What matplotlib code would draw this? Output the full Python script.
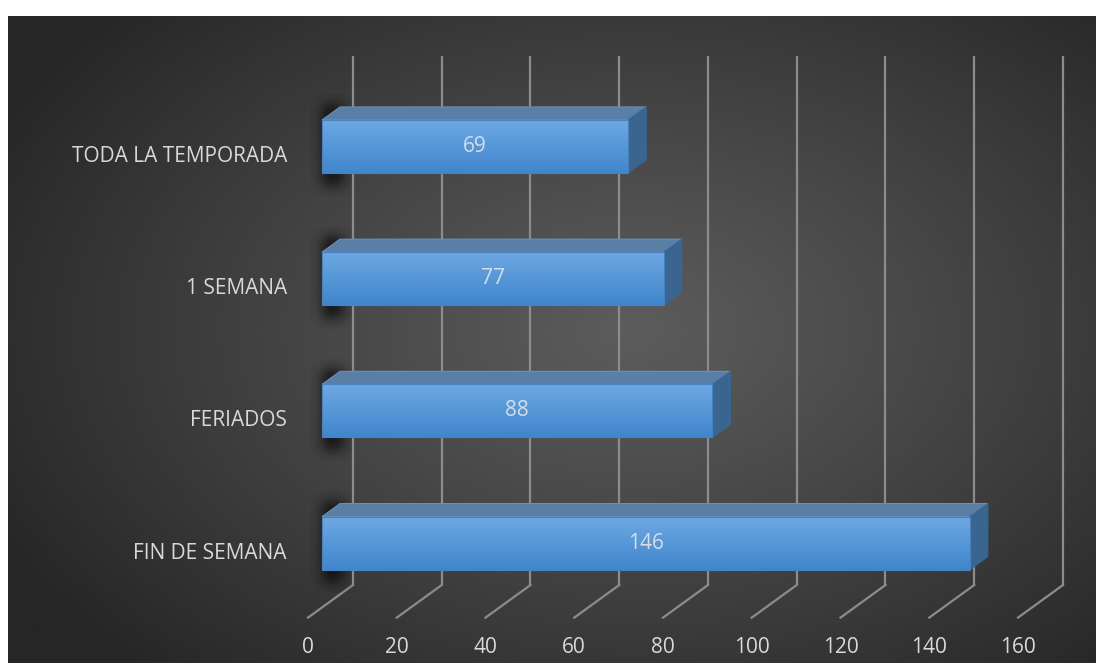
import numpy as np
import matplotlib
matplotlib.use("Agg")
import matplotlib.pyplot as plt
from matplotlib.patches import Polygon

# ---- data ----
categories = ["TODA LA TEMPORADA", "1 SEMANA", "FERIADOS", "FIN DE SEMANA"]
values = [69, 77, 88, 146]
ticks = [0, 20, 40, 60, 80, 100, 120, 140, 160]
tick_labels = [str(t) for t in ticks]

# ---- layout (pixel based) ----
W, H = 1096, 663
PX = 4.4375          # px per value unit
X0 = 322             # px of value 0 on bar front face
Y0 = 146.5           # px of first bar centre
SP = 132.2           # px between categories
SLOPE = 0.725        # vertical px per depth px

def dx(depth_px):
    return depth_px / PX

def dy(depth_px):
    return -depth_px * SLOPE / SP

def yc(px):
    return (px - Y0) / SP

fig = plt.figure(figsize=(W / 100, H / 100), dpi=100)
fig.patch.set_facecolor("white")

# background radial gradient
bg = fig.add_axes([8 / W, 0, 1 - 8 / W, (H - 16) / H])
gx = np.linspace(8, W, 400)
gy = np.linspace(16, H, 260)
GX, GY = np.meshgrid(gx, gy)
r = np.sqrt(((GX - 630) / 720) ** 2 + ((GY - 330) / 470) ** 2)
r = np.clip(r, 0, 1)
lv = (0x5c - (0x5c - 0x26) * r ** 1.1) / 255.0
img = np.dstack([lv, lv, lv])
bg.imshow(img, aspect="auto", extent=(0, 1, 0, 1), origin="upper")
bg.set_axis_off()

ax = fig.add_axes([0, 0, 1, 1])
ax.patch.set_alpha(0)
ax.set_xlim(-X0 / PX, (W - X0) / PX)
ax.set_ylim(yc(H), yc(0))
ax.set_axis_off()

grid_col = "#8c8c8c"
WALL = 31     # depth of back wall
FRONT = -14   # depth of floor front
floor_y0 = yc(585) - dy(WALL)   # floor level at depth 0
top_y0 = yc(56) - dy(WALL)
FS = 15

for t, lab in zip(ticks, tick_labels):
    xb = t + dx(WALL)
    ax.plot([xb, xb], [top_y0 + dy(WALL), floor_y0 + dy(WALL)],
            color=grid_col, lw=1.6, zorder=1, solid_capstyle="butt")
    ax.plot([xb, t + dx(FRONT)], [floor_y0 + dy(WALL), floor_y0 + dy(FRONT)],
            color=grid_col, lw=1.6, zorder=1)
    ax.text(t + dx(FRONT), floor_y0 + dy(FRONT) + 30 / SP, lab,
            ha="center", va="center", color="#d9d9d9", fontsize=FS,
            family="Open Sans", zorder=5)

BH = 53 / SP      # bar front height
BD = 18           # bar depth px

def shadow_img():
    xs = np.linspace(0, 1, 60)
    ys = np.linspace(0, 1, 120)
    XX, YY = np.meshgrid(xs, ys)
    s = 0.1
    ax_ = 1 / (1 + np.exp(-(XX - 0.32) / s)) * 1 / (1 + np.exp(-(0.78 - XX) / s * 0.8))
    ay_ = 1 / (1 + np.exp(-(YY - 0.1) / 0.04)) * 1 / (1 + np.exp(-(0.9 - YY) / 0.04))
    a = 0.85 * ax_ * ay_
    out = np.zeros((120, 60, 4))
    out[..., 3] = a
    return out

sh = shadow_img()
front_grad = np.linspace(0, 1, 100)[:, None]
c_top = np.array([0x6d, 0xa8, 0xe3]) / 255
c_bot = np.array([0x40, 0x86, 0xcc]) / 255
fg = c_top[None, None, :] * (1 - front_grad[..., None]) + c_bot[None, None, :] * front_grad[..., None]
fg = np.repeat(fg, 2, axis=1)

for i, (cat, v) in enumerate(zip(categories, values)):
    top = i - BH / 2
    bot = i + BH / 2
    # shadow
    ax.imshow(sh, extent=(dx(310 - X0), dx(352 - X0), yc(Y0 + i * SP + 50), yc(Y0 + i * SP - 52)),
              aspect="auto", zorder=2, interpolation="bilinear")
    # top face
    ax.add_patch(Polygon([(0, top), (v, top), (v + dx(BD), top + dy(BD)), (dx(BD), top + dy(BD))],
                         closed=True, fc="#5a7fa7", ec="#6b90b8", lw=0.8, zorder=3))
    # side face
    ax.add_patch(Polygon([(v, top), (v + dx(BD), top + dy(BD)), (v + dx(BD), bot + dy(BD)), (v, bot)],
                         closed=True, fc="#3a6591", ec="#3a6591", lw=0.8, zorder=3))
    # front face
    ax.imshow(fg, extent=(0, v, bot, top), aspect="auto", zorder=4, interpolation="bilinear")
    ax.add_patch(Polygon([(0, top), (v, top), (v, bot), (0, bot)], closed=True,
                         fill=False, ec="#4a82bd", lw=0.8, zorder=4))
    ax.text(v / 2, i, str(v), ha="center", va="center", color="#d6dde6",
            fontsize=FS, family="Open Sans", zorder=6)
    ax.text(dx(287 - X0), i + 10 / SP, cat, ha="right", va="center", color="#d9d9d9",
            fontsize=FS, family="Open Sans", zorder=6)

ax.set_xlim(-X0 / PX, (W - X0) / PX)
ax.set_ylim(yc(H), yc(0))
fig.savefig("out.png", dpi=100)
